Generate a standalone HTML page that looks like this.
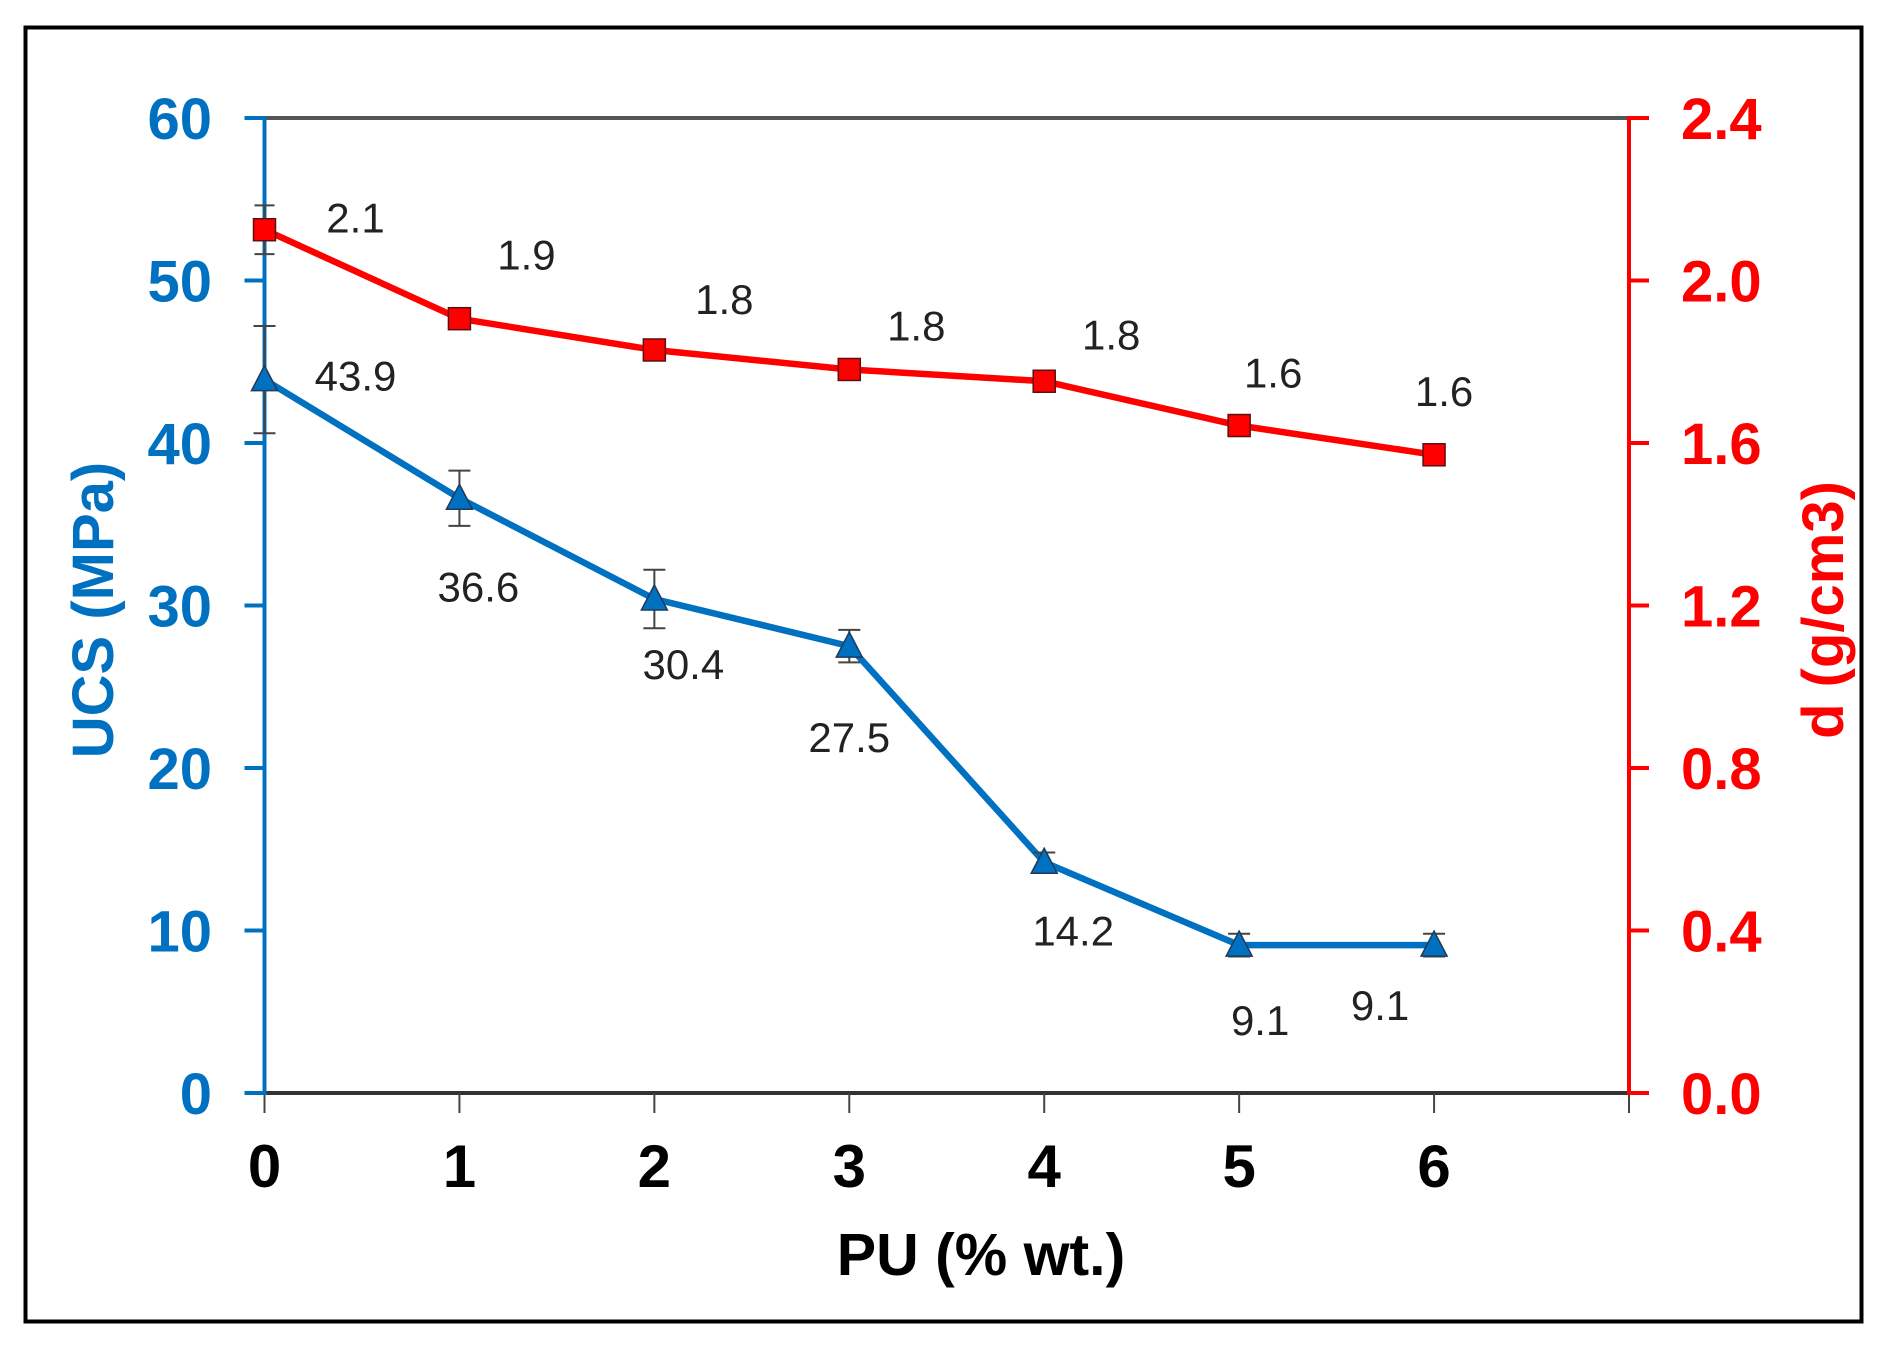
<!DOCTYPE html>
<html><head><meta charset="utf-8"><style>
html,body{margin:0;padding:0;background:#fff;}
svg{display:block;}
text{font-family:"Liberation Sans",Arial,sans-serif;}
</style></head><body>
<svg id="chart" width="1885" height="1356" viewBox="0 0 1885 1356" xmlns="http://www.w3.org/2000/svg">
<rect x="25.5" y="27.5" width="1836" height="1294" fill="#fff" stroke="#000" stroke-width="4"/>
<g id="g"></g>
</svg>
<script>
const categories = [0, 1, 2, 3, 4, 5, 6];
const ucsValues = [43.9, 36.6, 30.4, 27.5, 14.2, 9.1, 9.1];
const ucsErrors = [3.3, 1.7, 1.8, 1.0, 0.6, 0.7, 0.7];
const ucsLabels = ["43.9", "36.6", "30.4", "27.5", "14.2", "9.1", "9.1"];
const densValues = [2.125, 1.906, 1.829, 1.781, 1.752, 1.643, 1.571];
const densErrors = [0.06, 0, 0, 0, 0, 0, 0];
const densLabels = ["2.1", "1.9", "1.8", "1.8", "1.8", "1.6", "1.6"];
const xTicks = [0, 1, 2, 3, 4, 5, 6, 7];
const xTickLabels = ["0", "1", "2", "3", "4", "5", "6"];
const yLeftTicks = [0, 10, 20, 30, 40, 50, 60];
const yRightTicks = [0, 0.4, 0.8, 1.2, 1.6, 2.0, 2.4];

const NS = "http://www.w3.org/2000/svg";
const g = document.getElementById("g");
const X0 = 264.5, X1 = 1629, Y0 = 1093, Y1 = 118;
const sx = v => X0 + (v - 0) / 7 * (X1 - X0);
const syL = v => Y0 - v / 60 * (Y0 - Y1);
const syR = v => Y0 - v / 2.4 * (Y0 - Y1);
const BLUE = "#0070c0", RED = "#ff0000";
// layout offsets for value labels (px, relative to point)
const ucsOff = [[91, 11], [19, 103], [29, 80], [0, 106], [29, 83], [21, 90], [-54, 75]];
const densOff = [[91, 3], [67, -49], [70, -36], [67, -29], [67, -32], [34, -38], [10, -49]];

function el(tag, attrs, parent) {
  const e = document.createElementNS(NS, tag);
  for (const k in attrs) e.setAttribute(k, attrs[k]);
  (parent || g).appendChild(e);
  return e;
}

let e = el("line", {x1: X0, y1: Y1, x2: X1, y2: Y1, stroke: "#555", "stroke-width": 4});


e = el("line", {x1: X0, y1: Y0, x2: X1, y2: Y0, stroke: "#333", "stroke-width": 4});


xTicks.forEach((t, i) => {
  const x = sx(t);
  const tk = el("line", {x1: x, y1: Y0, x2: x, y2: Y0 + 20, stroke: "#444", "stroke-width": 2});
  
  
  if (i < xTickLabels.length) {
    const tx = el("text", {x: x, y: 1187, "text-anchor": "middle", "font-size": 60, "font-weight": "bold", fill: "#000"});
    tx.textContent = xTickLabels[i];
    
    
  }
});
e = el("text", {x: 981, y: 1275, "text-anchor": "middle", "font-size": 59, "font-weight": "bold", fill: "#000"});
e.textContent = "PU (% wt.)";



e = el("line", {x1: X0, y1: Y1 - 2, x2: X0, y2: Y0 + 2, stroke: BLUE, "stroke-width": 4});


yLeftTicks.forEach(t => {
  const y = syL(t);
  const tk = el("line", {x1: X0 - 20, y1: y, x2: X0, y2: y, stroke: BLUE, "stroke-width": 4});
  
  
  const tx = el("text", {x: 212, y: y + 21, "text-anchor": "end", "font-size": 58, "font-weight": "bold", fill: BLUE});
  tx.textContent = String(t);
  
  
});
e = el("text", {x: 0, y: 0, "text-anchor": "middle", "font-size": 58, "font-weight": "bold", fill: BLUE, transform: "translate(113,610) rotate(-90)"});
e.textContent = "UCS (MPa)";



e = el("line", {x1: X1, y1: Y1 - 2, x2: X1, y2: Y0 + 2, stroke: RED, "stroke-width": 4});


yRightTicks.forEach(t => {
  const y = syR(t);
  const tk = el("line", {x1: X1, y1: y, x2: X1 + 20, y2: y, stroke: RED, "stroke-width": 4});
  
  
  const tx = el("text", {x: 1681, y: y + 21, "text-anchor": "start", "font-size": 58, "font-weight": "bold", fill: RED});
  tx.textContent = t.toFixed(1);
  
  
});
e = el("text", {x: 0, y: 0, "text-anchor": "middle", "font-size": 58, "font-weight": "bold", fill: RED, transform: "translate(1843,610) rotate(-90)"});
e.textContent = "d (g/cm3)";



e = el("polyline", {points: categories.map((c, i) => sx(c) + "," + syL(ucsValues[i])).join(" "), fill: "none", stroke: BLUE, "stroke-width": 6.5, "stroke-linejoin": "round"});


categories.forEach((c, i) => {
  const x = sx(c), y = syL(ucsValues[i]);
  const yt = syL(ucsValues[i] + ucsErrors[i]), yb = syL(ucsValues[i] - ucsErrors[i]);
  const eb = el("path", {d: `M${x},${yt}V${yb}M${x-11},${yt}H${x+11}M${x-11},${yb}H${x+11}`, stroke: "#444", "stroke-width": 2, fill: "none"});
  
  
  const m = el("polygon", {points: `${x},${y-14} ${x-13},${y+11} ${x+13},${y+11}`, fill: BLUE, stroke: "#1f3a5a", "stroke-width": 1.5});
  
  
  const tx = el("text", {x: x + ucsOff[i][0], y: y + ucsOff[i][1], "text-anchor": "middle", "font-size": 42, fill: "#222"});
  tx.textContent = ucsLabels[i];
  
  
});

e = el("polyline", {points: categories.map((c, i) => sx(c) + "," + syR(densValues[i])).join(" "), fill: "none", stroke: RED, "stroke-width": 6.5, "stroke-linejoin": "round"});


categories.forEach((c, i) => {
  const x = sx(c), y = syR(densValues[i]);
  if (densErrors[i] > 0) {
    const yt = syR(densValues[i] + densErrors[i]), yb = syR(densValues[i] - densErrors[i]);
    const eb = el("path", {d: `M${x},${yt}V${yb}M${x-10},${yt}H${x+10}M${x-10},${yb}H${x+10}`, stroke: "#444", "stroke-width": 2, fill: "none"});
    
    
  }
  const m = el("rect", {x: x - 11, y: y - 11, width: 22, height: 22, fill: RED, stroke: "#5a1010", "stroke-width": 1.5});
  
  
  const tx = el("text", {x: x + densOff[i][0], y: y + densOff[i][1], "text-anchor": "middle", "font-size": 42, fill: "#222"});
  tx.textContent = densLabels[i];
  
  
});
</script>
</body></html>
